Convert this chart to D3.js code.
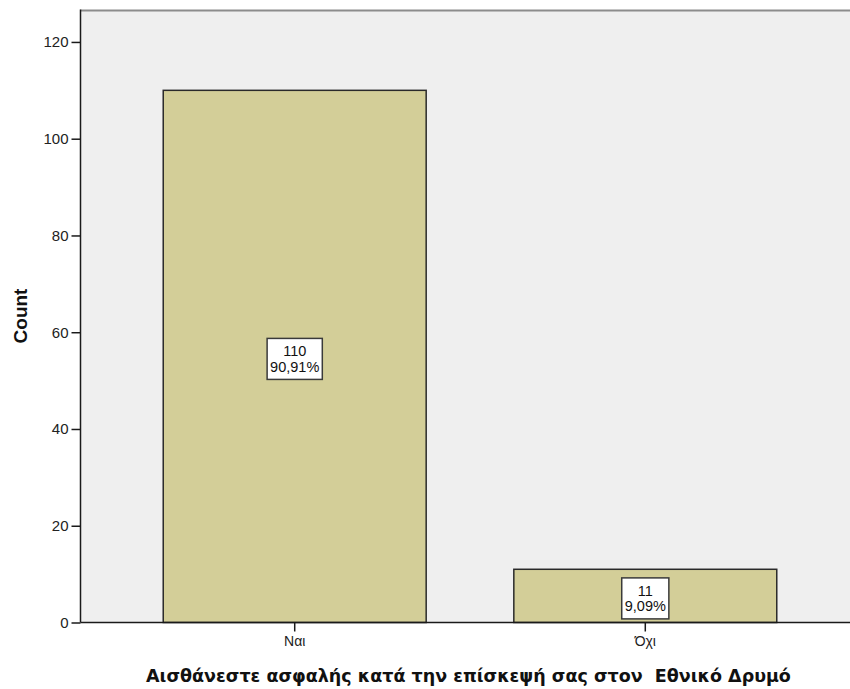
<!DOCTYPE html>
<html>
<head>
<meta charset="utf-8">
<script src="https://cdn.jsdelivr.net/npm/d3@7"></script>
<style>
  html, body { margin: 0; padding: 0; background: #ffffff; }
  svg { display: block; }
  text { font-family: "Liberation Sans", Arial, sans-serif; }
</style>
</head>
<body>
<svg id="chart" width="850" height="689"></svg>
<script>
const categories = ["Ναι", "Όχι"];
const counts = [110, 11];
const percentLabels = ["90,91%", "9,09%"];
const yTicks = [0, 20, 40, 60, 80, 100, 120];
const yTitle = "Count";
const xTitle = "Αισθάνεστε ασφαλής κατά την επίσκεψή σας στον  Εθνικό Δρυμό";

const svg = d3.select("#chart");
const W = 850, H = 689;
const plotLeft = 80.5, plotTop = 10.5, plotBottom = 622.5, plotRightVirtual = 859.5;

const x = d3.scaleBand().domain(categories).range([plotLeft, plotRightVirtual])
  .paddingInner(0.25).paddingOuter(0.236);
const y = d3.scaleLinear().domain([0, 126.5]).range([plotBottom, plotTop]);

// plot background
svg.append("rect").attr("x", plotLeft).attr("y", plotTop)
  .attr("width", W - plotLeft).attr("height", plotBottom - plotTop)
  .attr("fill", "#efefef");

// top border
svg.append("line").attr("x1", plotLeft).attr("x2", W).attr("y1", plotTop).attr("y2", plotTop)
  .attr("stroke", "#8c8c8c").attr("stroke-width", 2);

// bars
svg.selectAll("rect.bar").data(categories).enter().append("rect")
  .attr("class", "bar")
  .attr("x", d => x(d))
  .attr("y", (d, i) => y(counts[i]))
  .attr("width", x.bandwidth())
  .attr("height", (d, i) => y(0) - y(counts[i]))
  .attr("fill", "#d3ce98")
  .attr("stroke", "#2a2a2a")
  .attr("stroke-width", 1.5);

// y axis
const yAxis = d3.axisLeft(y).tickValues(yTicks).tickSize(9).tickPadding(3)
  .tickFormat(d3.format("d"));
const gy = svg.append("g").attr("transform", `translate(${plotLeft},0)`).call(yAxis);
gy.select(".domain").attr("stroke", "#1a1a1a").attr("stroke-width", 1.5)
  .attr("d", `M0,${plotTop - 1}V${plotBottom}`);
gy.selectAll(".tick line").attr("stroke", "#1a1a1a").attr("stroke-width", 1.5);
gy.selectAll(".tick text").attr("font-size", 15).attr("fill", "#222");

// x axis
const xAxis = d3.axisBottom(x).tickSize(9).tickPadding(5);
const gx = svg.append("g").attr("transform", `translate(0,${plotBottom})`).call(xAxis);
gx.select(".domain").attr("stroke", "#1a1a1a").attr("stroke-width", 1.5)
  .attr("d", `M${plotLeft},0H${W}`);
gx.selectAll(".tick line").attr("stroke", "#1a1a1a").attr("stroke-width", 1.5);
gx.selectAll(".tick text").attr("font-size", 14).attr("fill", "#222");

// value labels with boxes
categories.forEach((c, i) => {
  const cx = x(c) + x.bandwidth() / 2;
  const cy = (y(counts[i]) + y(0)) / 2 + 2.5;
  const g = svg.append("g");
  const box = g.append("rect");
  const t1 = g.append("text").attr("x", cx).attr("y", cy - 2.5)
    .attr("text-anchor", "middle").attr("font-size", 14.5).attr("fill", "#111")
    .text(counts[i]);
  const t2 = g.append("text").attr("x", cx).attr("y", cy + 12.8)
    .attr("text-anchor", "middle").attr("font-size", 14.5).attr("fill", "#111")
    .text(percentLabels[i]);
  const w = Math.max(t1.node().getComputedTextLength(), t2.node().getComputedTextLength()) + 6;
  box.attr("x", cx - w / 2).attr("y", cy - 20.5).attr("width", w).attr("height", 41)
    .attr("fill", "#ffffff").attr("stroke", "#3a3a3a").attr("stroke-width", 1.5);
});

// axis titles
svg.append("text").attr("transform", `translate(27,316) rotate(-90)`)
  .attr("text-anchor", "middle").attr("font-size", 19).attr("font-weight", "bold")
  .attr("fill", "#111").text(yTitle);

svg.append("text").attr("x", (plotLeft + plotRightVirtual) / 2 - 1.5).attr("y", 681.5)
  .attr("text-anchor", "middle").attr("font-size", 17.5).attr("font-weight", "bold")
  .style("font-family", "'DejaVu Sans', Verdana, sans-serif")
  .style("white-space", "pre")
  .attr("fill", "#111").text(xTitle);
</script>
</body>
</html>
